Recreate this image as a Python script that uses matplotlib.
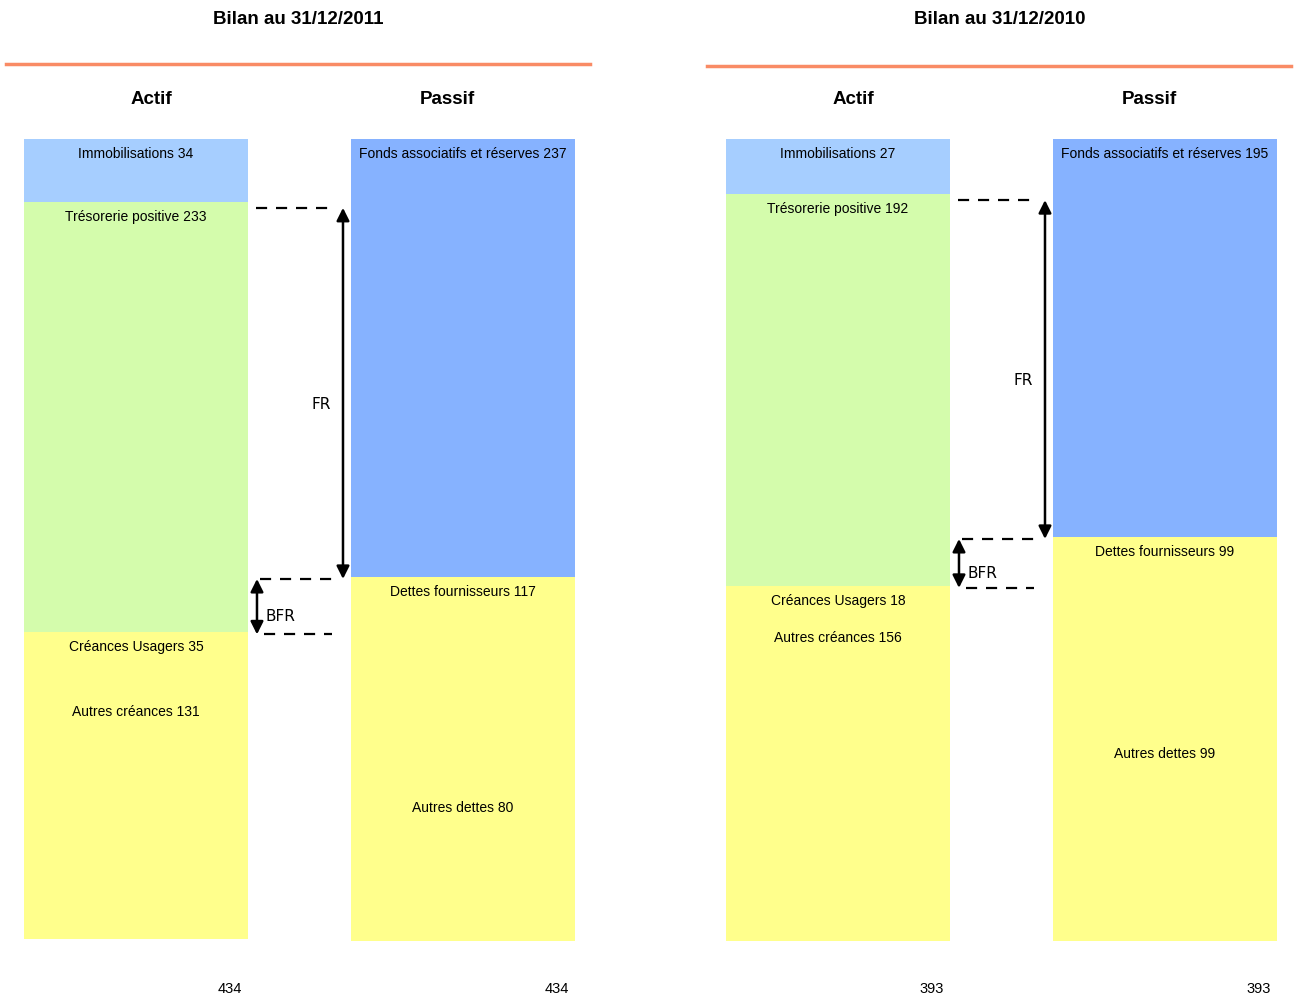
import matplotlib
matplotlib.use('Agg')
import matplotlib.pyplot as plt
from matplotlib.lines import Line2D

# Bilans simplifiés (en milliers d'euros)
years = ['31/12/2011', '31/12/2010']
immobilisations = [34, 27]
tresorerie = [233, 192]
creances_usagers = [35, 18]
autres_creances = [131, 156]
fonds_associatifs = [237, 195]
dettes_fournisseurs = [117, 99]
autres_dettes = [80, 99]
totals = [434, 393]

C_IMMO = '#A6CEFF'
C_TRESO = '#D4FCAC'
C_YELLOW = '#FFFF8C'
C_FONDS = '#86B2FF'
C_LINE = '#F98B65'

plt.rcParams['font.family'] = ['Liberation Sans', 'DejaVu Sans']

W, H = 1298, 1001
fig = plt.figure(figsize=(W / 100, H / 100), dpi=100)

bar_w = 224 / 327
panel_left = [24, 726]
title_x = [298, 1000]
line_y = [64, 66]
line_x = [(6, 590), (707, 1291)]


def draw_stack(ax, x, values, colors, labels):
    bottom = 0
    for v, c, lab in zip(values, colors, labels):
        ax.bar(x, v, bottom=bottom, width=bar_w, color=c, edgecolor='none')
        ax.annotate(f'{lab} {v}', (x, bottom), xytext=(0, -15), textcoords='offset pixels',
                    ha='center', va='center', fontsize=10)
        bottom += v


def double_arrow(ax, x, y0, y1):
    ax.annotate('', xy=(x, y1), xytext=(x, y0),
                arrowprops=dict(arrowstyle='<|-|>', color='black', lw=1.8,
                                mutation_scale=19, shrinkA=0, shrinkB=0))


for i in range(2):
    ax = fig.add_axes([panel_left[i] / W, 1 - 941 / H, 551 / W, 802 / H])
    ax.set_xlim(-bar_w / 2, 1 + bar_w / 2)
    ax.set_ylim(totals[i], 0)
    ax.axis('off')
    px = totals[i] / 802  # une unité de pixel en valeur

    draw_stack(ax, 0,
               [immobilisations[i], tresorerie[i], creances_usagers[i], autres_creances[i]],
               [C_IMMO, C_TRESO, C_YELLOW, C_YELLOW],
               ['Immobilisations', 'Trésorerie positive', 'Créances Usagers', 'Autres créances'])
    draw_stack(ax, 1,
               [fonds_associatifs[i], dettes_fournisseurs[i], autres_dettes[i]],
               [C_FONDS, C_YELLOW, C_YELLOW],
               ['Fonds associatifs et réserves', 'Dettes fournisseurs', 'Autres dettes'])

    # Fonds de roulement et besoin en fonds de roulement
    y_immo = immobilisations[i] + 6 * px
    y_fonds = fonds_associatifs[i] + 2 * px
    y_treso = immobilisations[i] + tresorerie[i] + 2 * px
    dash = dict(color='black', lw=1.6, ls=(0, (5, 4)))
    ax.plot([0.367, 0.61], [y_immo, y_immo], **dash)
    ax.plot([0.38, 0.61], [y_fonds, y_fonds], **dash)
    ax.plot([0.39, 0.60], [y_treso, y_treso], **dash)
    double_arrow(ax, 0.633, y_immo, y_fonds)
    double_arrow(ax, 0.37, y_fonds, y_treso)
    ax.annotate('FR', (0.595, (y_immo + y_fonds) / 2), xytext=(0, -11),
                textcoords='offset pixels', ha='right', va='center',
                fontsize=11, family='DejaVu Sans')
    ax.annotate('BFR', (0.395, (y_fonds + y_treso) / 2), xytext=(0, -10),
                textcoords='offset pixels', ha='left', va='center',
                fontsize=11, family='DejaVu Sans')

    # Totaux sous les colonnes
    for x in (0, 1):
        ax.text(x + bar_w / 2 - 6 / 327, -0.06, str(totals[i]), transform=ax.get_xaxis_transform(),
                ha='right', va='center', fontsize=10.5)

    fig.text(title_x[i] / W, 1 - 20 / H, f'Bilan au {years[i]}', ha='center', va='center',
             fontsize=13.5, fontweight='bold')
    fig.add_artist(Line2D([line_x[i][0] / W, line_x[i][1] / W], [1 - line_y[i] / H] * 2,
                          transform=fig.transFigure, color=C_LINE, lw=2.5))
    fig.text((panel_left[i] + 127) / W, 1 - 99 / H, 'Actif', ha='center', va='center',
             fontsize=13.5, fontweight='bold')
    fig.text((panel_left[i] + 423) / W, 1 - 99 / H, 'Passif', ha='center', va='center',
             fontsize=13.5, fontweight='bold')

fig.savefig('out.png', dpi=100)
plt.close(fig)
